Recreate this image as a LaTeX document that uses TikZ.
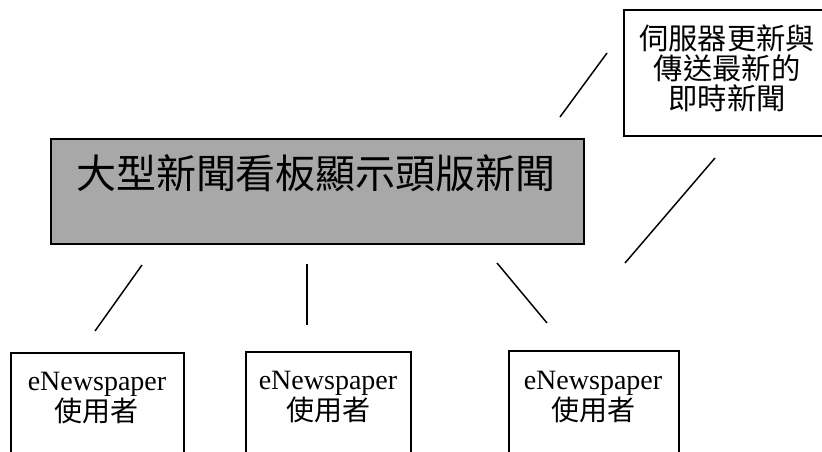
\documentclass[tikz,border=0pt]{standalone}
\usepackage{fontspec}
\setmainfont{Liberation Serif}
\newfontfamily\cjk{Noto Sans CJK TC}
\begin{document}
\begin{tikzpicture}[x=0.75pt,y=-0.75pt,
  box/.style={draw=black,line width=1.2pt,rectangle,inner sep=0pt,anchor=north west},
  conn/.style={draw=black,line width=1.1pt},
  txt/.style={inner sep=0pt,align=center}]
\useasboundingbox (0,0) rectangle (822,452);
\begin{scope}
\clip (0,0) rectangle (822,452);
% main board
\node[box,fill=black!34,minimum width=533*0.75pt,minimum height=105*0.75pt] (main) at (50,138) {};
\node[txt,font=\cjk\fontsize{30pt}{32pt}\selectfont] (maint) at (316,173) {大型新聞看板顯示頭版新聞};
% server box
\node[box,minimum width=210*0.75pt,minimum height=126*0.75pt] (srv) at (623,9) {};
\node[txt,font=\cjk\fontsize{22pt}{22.5pt}\selectfont] (srvt) at (727,68) {伺服器更新與\\傳送最新的\\即時新聞};
% user boxes
\node[box,minimum width=173*0.75pt,minimum height=110*0.75pt] (u1) at (10,352) {};
\node[box,minimum width=165*0.75pt,minimum height=110*0.75pt] (u2) at (245,351) {};
\node[box,minimum width=170*0.75pt,minimum height=110*0.75pt] (u3) at (508,350) {};
\node[txt,font=\fontsize{21pt}{20pt}\selectfont] (u1t) at (97,398) {eNewspaper\\{\cjk 使用者}};
\node[txt,font=\fontsize{21pt}{20pt}\selectfont] (u2t) at (328,397) {eNewspaper\\{\cjk 使用者}};
\node[txt,font=\fontsize{21pt}{20pt}\selectfont] (u3t) at (593,397) {eNewspaper\\{\cjk 使用者}};
\end{scope}
% connector ends
\coordinate (a1) at (142,265); \coordinate (b1) at (95,331);
\coordinate (a2) at (307,264); \coordinate (b2) at (307,325);
\coordinate (a3) at (497,263); \coordinate (b3) at (547,323);
\coordinate (s1) at (560,117); \coordinate (t1) at (607,53);
\coordinate (s2) at (625,263); \coordinate (t2) at (715,158);
\draw[conn] (a1) -- (b1);
\draw[conn] (a2) -- (b2);
\draw[conn] (a3) -- (b3);
\draw[conn] (s1) -- (t1);
\draw[conn] (s2) -- (t2);
\end{tikzpicture}
\end{document}
